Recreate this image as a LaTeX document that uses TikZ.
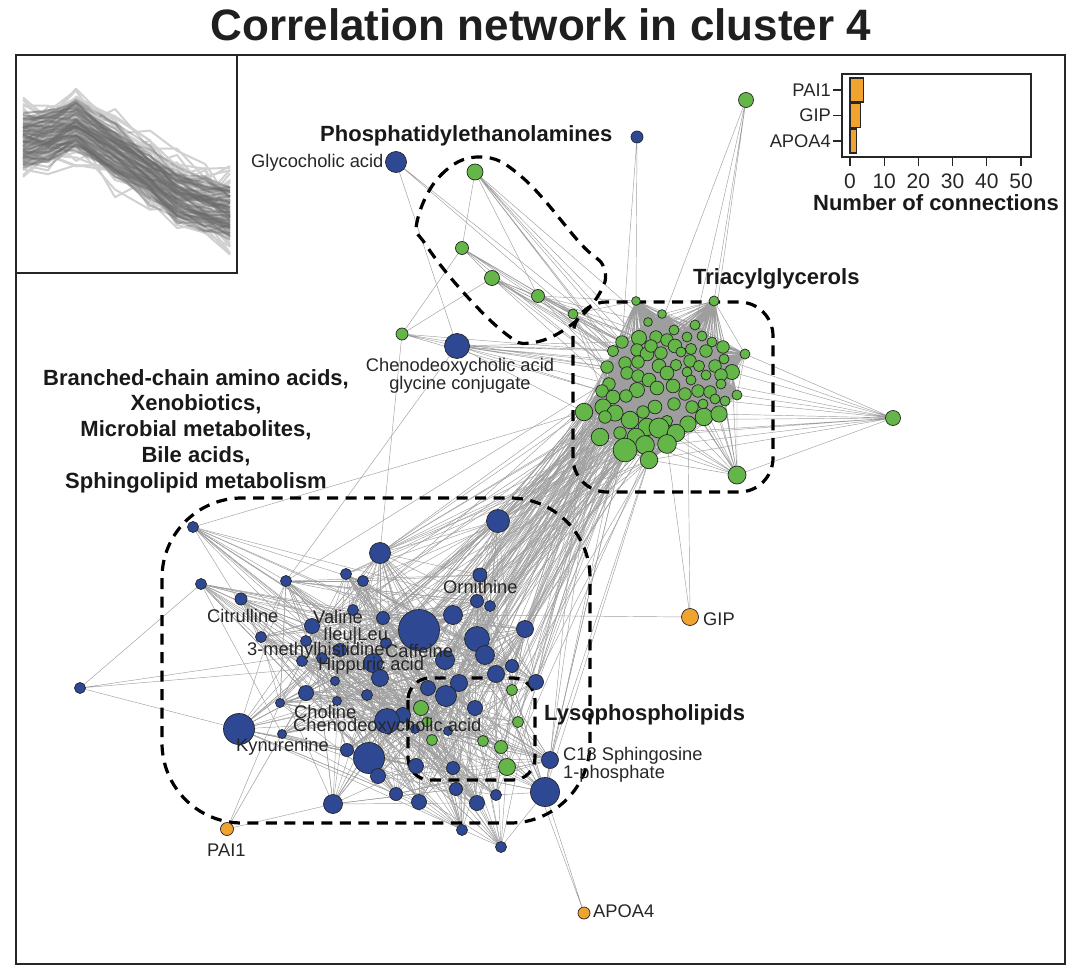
\documentclass[tikz,border=0pt]{standalone}
\usepackage{fontspec}
\setmainfont{Liberation Sans}

\definecolor{netblue}{RGB}{46,72,148}
\definecolor{netgreen}{RGB}{101,182,72}
\definecolor{netorange}{RGB}{241,163,47}

\pgfdeclarelayer{links}
\pgfdeclarelayer{hulls}
\pgfsetlayers{links,hulls,main}

\def\taglist{636/301/3.5, 714/301/4, 662/314/3.5, 648/322/3.5, 695/325/4, 674/330/4, 622/342/5, 639/338/6,
  656/337/5, 667/340/5, 687/337/4, 702/336/4, 712/342/4, 723/347/5, 745/354/4, 613/351/4.5, 637/350/5,
  647/354/5.5, 651/346/5, 675/346/5.5, 681/352/4, 661/353/5, 691/349/4.5, 706/351/5, 724/359/4, 625/363/5,
  638/362/5, 659/366/5.5, 676/365/4.5, 690/361/5, 699/366/4.5, 715/366/5, 732/372/6, 607/367/5, 627/373/5,
  638/376/5, 667/373/5.5, 687/372/4, 706/375/4, 721/375/5, 691/380/4, 649/380/5.5, 721/384/4, 609/384/5,
  657/388/5.5, 673/386/5.5, 637/390/6, 602/391/5, 613/397/5.5, 626/396/5, 685/394/5, 698/391/5, 710/392/5,
  737/395/4, 715/399/4, 725/401/4, 703/404/4, 655/407/5.5, 674/404/5, 692/407/5, 584/412/7, 603/407/6.5,
  615/413/6.5, 605/417/5, 630/420/7, 643/412/5, 704/417/7, 719/414/6.5, 667/421/4.5, 688/424/6.5, 647/427/7,
  659/428/8, 676/433/7, 620/433/5, 600/437/7, 636/437/7, 645/445/7.5, 625/450/9.5, 667/444/7.5, 649/460/7}
\def\bluelist{193/527/5/3/0, 498/521/11/6/14, 380/553/10/10/7, 201/584/5/4/0, 286/581/5/6/1, 346/574/5/6/2,
  363/581/5/6/2, 241/599/5.5/5/0, 480/575/6.5/6/9, 477/601/6/6/7, 490/606/5/6/7, 353/610/5/6/1, 383/618/6/7/3,
  419/630/20/10/9, 453/615/9/8/7, 525/629/8/6/7, 312/626/7/7/1, 261/637/5/4/0, 306/641/5/6/1, 477/639/12/8/7,
  485/655/9/8/6, 386/643/5/6/2, 340/650/6/6/1, 322/658/5/6/1, 302/661/5/6/1, 373/663/9/8/3, 445/660/9/8/5,
  512/666/6/6/5, 380/678/8/8/2, 496/674/8/7/5, 335/681/4/5/1, 459/683/8/7/3, 536/682/7/6/5, 306/693/7/6/1,
  367/695/5/6/1, 428/688/7/7/2, 446/696/10/8/3, 337/701/4/5/0, 280/703/4/5/0, 475/708/7/7/3, 403/715/7/7/2,
  387/721/12/8/2, 239/729/15/8/0, 282/734/4/5/0, 448/731/4/5/1, 415/729/4/5/1, 347/750/6/6/0, 369/758/15/9/1,
  378/776/7/6/0, 416/766/7/6/1, 453/768/6/6/1, 550/760/8/6/4, 545/792/14/7/3, 333/804/9/5/0, 396/794/6/6/0,
  419/802/7/6/0, 456/789/6/6/1, 477/803/7/6/1, 496/795/5/5/1, 462/830/5/5/0, 501/847/5/4/0}
\def\lysolist{512/690/5, 421/708/7, 518/722/5, 432/740/5, 483/741/5, 501/747/6, 507/767/8, 427/722/4.5}
\def\pelist{475/172/7.5, 462/248/6, 492/278/7, 538/296/6, 573/314/4.5}
\def\brg{{26,27,28,34,35,36,42,44,45,47,48,49,50,58,61,62,63,64,65,66,71,72,74,75,76,77,78,80}}
\def\profx{{23,48,76,115,150,177,205,230}}
\def\profy{{140,138,127,152,175,195,205,213}}

\begin{document}
\begin{tikzpicture}[x=1pt,y=-1pt,
  lipid/.style={circle,draw=black!85,line width=0.7pt,fill=netgreen,inner sep=0pt},
  metab/.style={circle,draw=black!85,line width=0.7pt,fill=netblue,inner sep=0pt},
  prot/.style={circle,draw=black!85,line width=0.7pt,fill=netorange,inner sep=0pt},
  link/.style={draw=black!38,line width=0.45pt},
  hull/.style={draw=black,line width=3.2pt,dash pattern=on 11pt off 7.5pt},
  lab/.style={font=\fontsize{18.3}{20}\selectfont,text=black!85,inner sep=0pt},
  grp/.style={font=\bfseries\fontsize{22}{25.7}\selectfont,text=black!90,inner sep=0pt},
  profdark/.style={draw=black!58,line width=2pt,opacity=0.35,line join=round},
  proflight/.style={draw=black!18,line width=2pt,line join=round}]
\useasboundingbox (0,0) rectangle (1080,974);

\node[font=\bfseries\fontsize{44}{50}\selectfont,anchor=base,text=black!88] (title) at (541,41) {Correlation network in cluster 4};
\draw[line width=2.6pt,black!85] (16,55) rectangle (1065,964);

% cluster profile
\begin{scope}
  \clip (17,56) rectangle (236,272);
  \pgfmathsetseed{11}
  \foreach \l in {1,...,40}{
    \pgfmathsetmacro\o{30*rand}
    \draw[proflight] (23,{140+\o+20*rand}) \foreach \k in {1,...,7}{ -- ({\profx[\k]},{\profy[\k]+\o+24*rand}) };
  }
  \foreach \l in {1,...,80}{
    \pgfmathsetmacro\o{22*rand}
    \draw[profdark] (23,{140+\o+8*rand}) \foreach \k in {1,...,7}{ -- ({\profx[\k]},{\profy[\k]+\o+9*rand}) };
  }
\end{scope}
\draw[line width=2pt,black!85] (16,55) rectangle (237,273);

% bar chart
\draw[line width=1.3pt,black!85] (842,74) rectangle (1031,157);
\foreach \name/\yy/\v in {PAI1/90/4, GIP/115.5/3, APOA4/141/2}{
  \draw[line width=1.2pt,black!85] (833,\yy) -- (842,\yy);
  \draw[fill=netorange,draw=black!85,line width=1.2pt] (850,\yy-12) rectangle (850+3.42*\v,\yy+12);
  \node[lab,anchor=east] (bar\name) at (831,\yy) {\name};
}
\foreach \t in {0,10,...,50}{
  \draw[line width=1.2pt,black!85] (850+3.42*\t,157) -- (850+3.42*\t,166);
  \node[lab,font=\fontsize{21}{24}\selectfont,anchor=base] (tick\t) at (850+3.42*\t,188) {\t};
}
\node[grp,anchor=base] (xlab) at (936,210) {Number of connections};

% nodes
\foreach \x/\y/\r [count=\i] in \taglist {\node[lipid,minimum size=2.5*\r] (t\i) at (\x,\y) {};}
\node[lipid,minimum size=18] (tbig) at (737,475) {};
\node[lipid,minimum size=15] (tout) at (893,418) {};
\node[lipid,minimum size=15] (ttop) at (746,100) {};
\foreach \x/\y/\r [count=\i] in \pelist {\node[lipid,minimum size=2*\r+1] (pe\i) at (\x,\y) {};}
\node[lipid,minimum size=12] (lone) at (402,334) {};
\foreach \x/\y/\r/\k/\m [count=\i] in \bluelist {\node[metab,minimum size=2*\r+1] (b\i) at (\x,\y) {};}
\foreach \x/\y/\r [count=\i] in \lysolist {\node[lipid,minimum size=2*\r+1] (ly\i) at (\x,\y) {};}
\node[metab,minimum size=21] (glyco) at (396,162) {};
\node[metab,minimum size=25] (cdcg) at (457,346) {};
\node[metab,minimum size=12] (mtop) at (637,137) {};
\node[metab,minimum size=11] (mleft) at (80,688) {};
\node[prot,minimum size=13] (pai) at (227,829) {};
\node[prot,minimum size=17] (gip) at (690,617) {};
\node[prot,minimum size=12] (apo) at (584,913) {};

% edges
\begin{pgfonlayer}{links}
  \draw[link] \foreach \i in {1,...,80}{\foreach \j in {\i,...,80}{(t\i.center) -- (t\j.center)}};
  \draw[link] \foreach \j in {33,40,43,53,54,56,67,68,70,73,79,80,72,77,60,57,51}{(tbig.center) -- (t\j.center)};
  \draw[link] \foreach \j in {15,25,33,54,56,43,68,75,78,80,76,65}{(tout.center) -- (t\j.center)} (tout.center) -- (tbig.center);
  \draw[link] \foreach \j in {2,5,9,13}{(ttop.center) -- (t\j.center)};
  \draw[link] (mtop.center) -- (t1.center) (mtop.center) -- (t7.center);
  \draw[link] (pe1.center) -- (pe2.center) (pe1.center) -- (pe4.center) \foreach \j in {7,16,8,17,26,4}{(pe1.center) -- (t\j.center)};
  \draw[link] (pe2.center) -- (pe3.center) (pe2.center) -- (lone.center) (pe2.center) -- (pe4.center) (pe2.center) -- (pe5.center)
    \foreach \j in {7,16,34}{(pe2.center) -- (t\j.center)};
  \draw[link] (pe3.center) -- (lone.center) (pe3.center) -- (pe4.center) \foreach \j in {7,16,26,34,44,17,8,27}{(pe3.center) -- (t\j.center)};
  \draw[link] (pe4.center) -- (pe5.center) \foreach \j in {1,4,7,8,16,17,26,34,9}{(pe4.center) -- (t\j.center)};
  \draw[link] \foreach \j in {7,16,26,34,44,48,1,8,17,27}{(pe5.center) -- (t\j.center)};
  \draw[link] (lone.center) -- (cdcg.center) (lone.center) -- (b3.center) \foreach \j in {16,34,48}{(lone.center) -- (t\j.center)};
  \draw[link] (glyco.center) -- (cdcg.center) (glyco.center) -- (pe5.center) (glyco.center) -- (t7.center);
  \draw[link] (cdcg.center) -- (b5.center) \foreach \j in {7,16,26,34,44,48,61,17,27,35}{(cdcg.center) -- (t\j.center)};
  \draw[link] (t61.center) -- (b1.center);
  \draw[link] \foreach \j in {4,43,22,26}{(mleft.center) -- (b\j.center)};
  \draw[link] \foreach \j in {54,44,39,34}{(pai.center) -- (b\j.center)};
  \draw[link] (gip.center) -- (b15.center) (gip.center) -- (t79.center) (gip.center) -- (t70.center);
  \draw[link] (apo.center) -- (b53.center) (apo.center) -- (b30.center);
  \pgfmathsetseed{5}
  \foreach \x/\y/\r/\k/\m [count=\i] in \bluelist {
    \pgfmathtruncatemacro\kk{\k+3}
    \foreach \n in {1,...,\kk}{\pgfmathrandominteger{\a}{1}{61}\draw[link] (b\i.center) -- (b\a.center);}
    \ifnum\m>0 \foreach \n in {1,...,\m}{\pgfmathrandominteger{\a}{0}{27}\pgfmathtruncatemacro\tj{\brg[\a]}\draw[link] (b\i.center) -- (t\tj.center);}\fi
  }
  \foreach \x/\y/\r [count=\i] in \lysolist {
    \foreach \n in {1,...,9}{\pgfmathrandominteger{\a}{1}{61}\draw[link] (ly\i.center) -- (b\a.center);}
    \foreach \n in {1,2}{\pgfmathrandominteger{\a}{0}{27}\pgfmathtruncatemacro\tj{\brg[\a]}\draw[link] (ly\i.center) -- (t\tj.center);}
  }
\end{pgfonlayer}

% groups
\begin{pgfonlayer}{hulls}
  \draw[hull] plot[smooth cycle,tension=0.7] coordinates {(417,222) (440,176) (480,157) (523,178) (580,243) (604,268)
    (598,296) (567,328) (530,343) (506,334) (463,292) (426,245)};
  \draw[hull,rounded corners=34] (573,302) rectangle (773,492);
  \draw[hull,rounded corners=80] (162,498) rectangle (590,823);
  \draw[hull,rounded corners=22] (408,678) rectangle (535,780);
\end{pgfonlayer}

% labels
\node[grp,anchor=base west] (lpe) at (320,141) {Phosphatidylethanolamines};
\node[grp,anchor=base west] (ltag) at (693,284) {Triacylglycerols};
\node[grp,align=center] (lbig) at (196,431) {Branched-chain amino acids,\\Xenobiotics,\\Microbial metabolites,\\Bile acids,\\Sphingolipid metabolism};
\node[grp,anchor=base west] (llyso) at (544,720) {Lysophospholipids};
\node[lab,anchor=base west] (lglyco) at (251,167) {Glycocholic acid};
\node[lab,font=\fontsize{18.3}{13.5}\selectfont,align=center,anchor=north] (lcdcg) at (460,358) {Chenodeoxycholic acid\\glycine conjugate};
\node[lab,anchor=base west] (lorn) at (443,593) {Ornithine};
\node[lab,anchor=base west] (lcit) at (207,622) {Citrulline};
\node[lab,anchor=base west] (lval) at (313,623) {Valine};
\node[lab,anchor=base west] (lleu) at (323,640) {Ileu|Leu};
\node[lab,anchor=base west] (lmhis) at (247,655) {3-methylhistidine};
\node[lab,anchor=base west] (lcaf) at (385,657) {Caffeine};
\node[lab,anchor=base west] (lhip) at (318,670) {Hippuric acid};
\node[lab,anchor=base west] (lcho) at (294,718) {Choline};
\node[lab,anchor=base west] (lcdca) at (293,731) {Chenodeoxycholic acid};
\node[lab,anchor=base west] (lkyn) at (236,751) {Kynurenine};
\node[lab,font=\fontsize{18.3}{13.5}\selectfont,align=left,anchor=north west] (ls1p) at (563,747) {C18 Sphingosine\\1-phosphate};
\node[lab,anchor=base west] (lgip) at (703,625) {GIP};
\node[lab,anchor=base west] (lpai) at (207,856) {PAI1};
\node[lab,anchor=base west] (lapo) at (593,917) {APOA4};
\end{tikzpicture}
\end{document}
